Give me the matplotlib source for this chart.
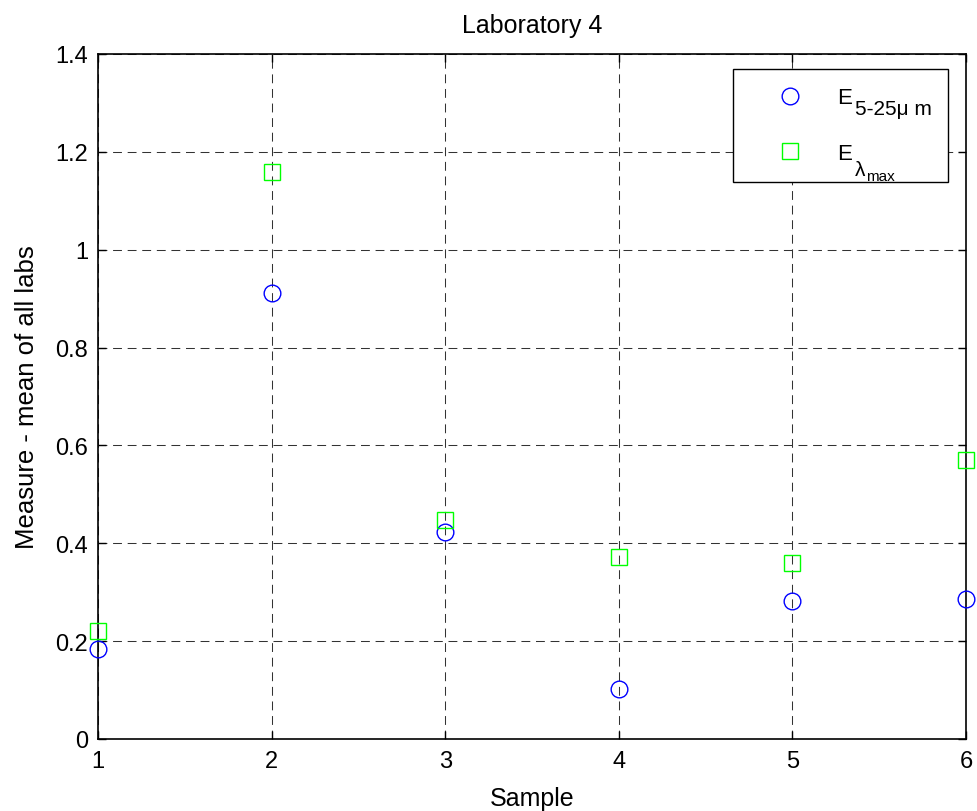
import numpy as np
from matplotlib import pyplot as plt

plt.rcParams['font.family'] = ['Liberation Sans', 'DejaVu Sans']

samples = [1, 2, 3, 4, 5, 6]
e_5_25 = [0.184, 0.911, 0.423, 0.102, 0.283, 0.286]
e_lmax = [0.221, 1.159, 0.448, 0.372, 0.359, 0.570]
y_ticks = [0, 0.2, 0.4, 0.6, 0.8, 1.0, 1.2, 1.4]
y_tick_labels = ['0', '0.2', '0.4', '0.6', '0.8', '1', '1.2', '1.4']

fig = plt.figure(figsize=(9.77, 8.12), dpi=100)
ax = fig.add_axes([0.1003, 0.0887, 0.8885, 0.8436])

ax.plot(samples, e_5_25, 'o', ls='none', mfc='none', mec='#0000ff', ms=12, mew=1.0,
        label='E', clip_on=False, zorder=5)
ax.plot(samples, e_lmax, 's', ls='none', mfc='none', mec='#00ff00', ms=12, mew=1.0,
        label='E', clip_on=False, zorder=5)

ax.set_xlim(1, 6)
ax.set_ylim(0, 1.4)
ax.set_xticks(samples)
ax.set_yticks(y_ticks)
ax.set_yticklabels(y_tick_labels)
ax.tick_params(direction='in', labelsize=17, length=6, width=1.0,
               top=True, right=True)
ax.tick_params(axis='x', pad=8)
ax.tick_params(axis='y', pad=7)
ax.grid(True, color='#333333', ls=(0, (8.5, 5.5)), lw=0.75)
for s in ax.spines.values():
    s.set_linewidth(1.2)

ax.set_title('Laboratory 4', fontsize=18, pad=16)
ax.set_xlabel('Sample', fontsize=18, labelpad=10)
ax.set_ylabel('Measure - mean of all labs', fontsize=18.5, labelpad=12)

# legend box stretched to MATLAB width, big subscripts added as annotations
leg = ax.legend(loc='upper right', bbox_to_anchor=(0.7316, 0.5, 0.2477, 0.478),
                mode='expand', borderaxespad=0, fontsize=16, fancybox=False,
                framealpha=1, edgecolor='black', borderpad=0.83,
                labelspacing=1.55, handlelength=3.47, handletextpad=0.38)
leg.get_frame().set_linewidth(1.0)
t1, t2 = leg.get_texts()
ax.annotate('5-25\u03bc m', xy=(0, 0), xycoords=t1, xytext=(13, 6.5),
            textcoords='offset points', va='top', ha='left', fontsize=15,
            zorder=10, annotation_clip=False)
ax.annotate('\u03bb', xy=(0, 0), xycoords=t2, xytext=(13, 2.5),
            textcoords='offset points', va='top', ha='left', fontsize=15,
            zorder=10, annotation_clip=False)
ax.annotate('max', xy=(0, 0), xycoords=t2, xytext=(21, -3.5),
            textcoords='offset points', va='top', ha='left', fontsize=11,
            zorder=10, annotation_clip=False)

fig.savefig('out.png', dpi=100)
